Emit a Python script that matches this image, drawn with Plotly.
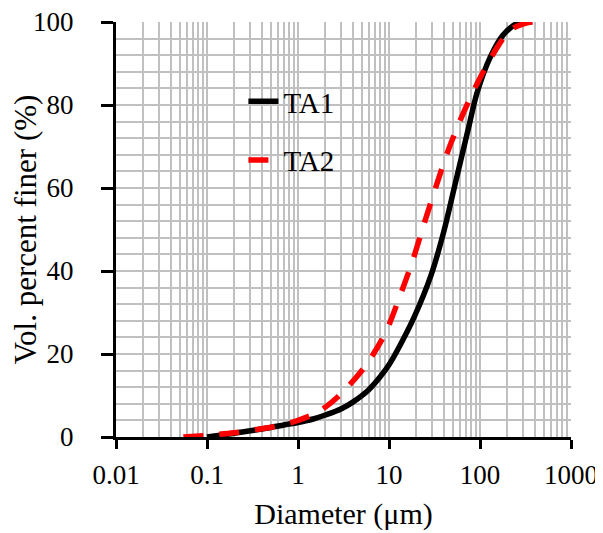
import plotly.graph_objects as go

# Diameter (µm) and cumulative volume percent finer (%)
ta1_diameter = [0.1, 0.2, 0.3, 0.5, 0.7, 1, 1.5, 2, 3, 4, 6, 8, 10, 13.6, 19, 29, 40, 54, 73, 93, 130, 180, 250, 280]
ta1_finer = [0, 0.9, 1.5, 2.3, 2.9, 3.5, 4.4, 5.3, 6.8, 8.4, 11.4, 14.5, 17.4, 22.6, 29.0, 39.0, 49.5, 61.5, 73.5, 83.0, 91.6, 96.9, 99.6, 100]

ta2_diameter = [0.055, 0.1, 0.2, 0.4, 0.7, 1, 1.55, 2, 3, 5.4, 9, 13.1, 18.3, 24.4, 35.6, 45.7, 66.7, 101.6, 161, 220, 314, 385]
ta2_finer = [0, 0.4, 1.0, 2.0, 3.0, 4.0, 5.7, 7.2, 10.5, 16.9, 24.8, 33.8, 42.7, 51.5, 62.7, 69.6, 78.4, 86.8, 94.5, 98.2, 99.7, 100]

x_tickvals = [0.01, 0.1, 1, 10, 100, 1000]
x_ticktext = ["0.01", "0.1", "1", "10", "100", "1000"]
y_tickvals = [0, 20, 40, 60, 80, 100]

FONT = "Liberation Serif, Times New Roman, serif"
GRID = "#C0C0C0"

fig = go.Figure()
fig.add_trace(go.Scatter(
    x=ta1_diameter, y=ta1_finer, mode="lines", name="TA1",
    line=dict(color="black", width=5.5, shape="spline", smoothing=0.9),
    legendgroup="a",
))
fig.add_trace(go.Scatter(
    x=ta2_diameter, y=ta2_finer, mode="lines", name="TA2",
    line=dict(color="#FF0000", width=5.5, dash="20px,16px", shape="spline", smoothing=0.9),
    legendgroup="b",
))

# page body adds an 8px margin, so the figure is sized 8px smaller
fig.update_layout(
    width=595, height=525,
    margin=dict(l=108, r=32, t=14, b=96),
    paper_bgcolor="white", plot_bgcolor="white",
    font=dict(family=FONT, size=27, color="black"),
    showlegend=True,
    legend=dict(
        x=0.28, y=0.87, xanchor="left", yanchor="top",
        bgcolor="rgba(0,0,0,0)", font=dict(size=29, family=FONT),
        traceorder="grouped", tracegroupgap=18,
    ),
    xaxis=dict(
        type="log", range=[-2, 3], automargin=False,
        tickvals=x_tickvals, ticktext=x_ticktext,
        showgrid=True, gridcolor=GRID, gridwidth=1.5,
        minor=dict(dtick="D1", showgrid=True, gridcolor=GRID, gridwidth=1.5, ticks=""),
        showline=True, linecolor="black", linewidth=3,
        ticks="outside", ticklen=9, tickwidth=3, tickcolor="black",
        ticklabelstandoff=3, ticklabeloverflow="allow",
        tickfont=dict(size=27, family=FONT),
        title=dict(text="Diameter (μm)", font=dict(size=30, family=FONT), standoff=14),
        zeroline=False, mirror=False,
    ),
    yaxis=dict(
        range=[0, 100], tickvals=y_tickvals, automargin=False,
        showgrid=True, gridcolor=GRID, gridwidth=1.5,
        minor=dict(dtick=4, showgrid=True, gridcolor=GRID, gridwidth=1.5, ticks=""),
        showline=True, linecolor="black", linewidth=3,
        ticks="outside", ticklen=12, tickwidth=3, tickcolor="black",
        ticklabelstandoff=22, ticklabeloverflow="allow",
        tickfont=dict(size=27, family=FONT),
        title=dict(text="Vol. percent finer (%)", font=dict(size=31, family=FONT), standoff=12),
        zeroline=False,
    ),
)

fig.write_html("out.html")
